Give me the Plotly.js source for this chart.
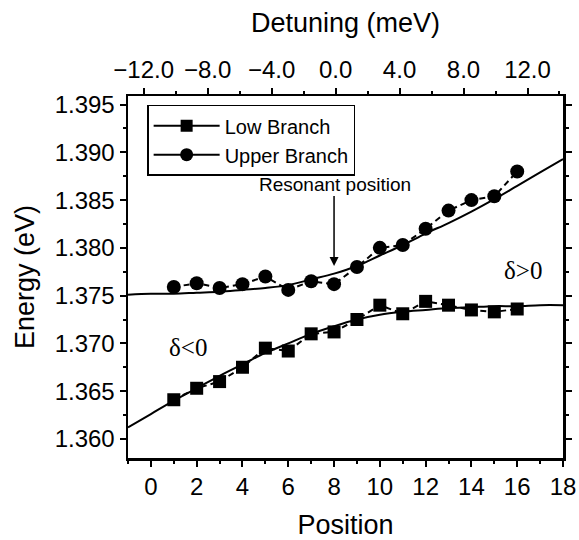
<!DOCTYPE html>
<html>
<head>
<meta charset="utf-8">
<script src="https://cdn.plot.ly/plotly-3.0.1.min.js"></script>
<style>html,body{margin:0;padding:0;background:#fff;}#chart{width:579px;height:540px;}</style>
</head>
<body>
<div id="chart"></div>
<script>
// Measured data points
const positions = [1, 2, 3, 4, 5, 6, 7, 8, 9, 10, 11, 12, 13, 14, 15, 16];
const lowBranch = [1.3641, 1.3653, 1.3660, 1.3675, 1.3695, 1.3692, 1.3710, 1.3712, 1.3725, 1.3740, 1.3731, 1.3744, 1.3740, 1.3735, 1.3733, 1.3736];
const upperBranch = [1.3759, 1.3763, 1.3758, 1.3762, 1.3770, 1.3756, 1.3765, 1.3762, 1.3780, 1.3800, 1.3803, 1.3820, 1.3839, 1.3850, 1.3854, 1.3880];

// Fitted curves
const fitPositions = [-1, 0, 1, 2, 3, 4, 5, 6, 7, 8, 9, 10, 11, 12, 13, 14, 15, 16, 17, 18];
const upperFit = [1.3751, 1.3752, 1.3752, 1.3753, 1.3754, 1.3756, 1.3758, 1.3761, 1.3767, 1.3773, 1.3781, 1.3792, 1.3803, 1.3815, 1.3826, 1.3838, 1.3851, 1.3865, 1.3879, 1.3893];
const lowerFit = [1.3612, 1.3626, 1.3640, 1.3653, 1.3666, 1.3678, 1.3690, 1.3700, 1.3710, 1.3718, 1.3725, 1.3730, 1.3733, 1.3735, 1.3737, 1.3738, 1.3739, 1.3739, 1.3740, 1.3740];

// Axis settings
const xRange = [-1, 18];
const yRange = [1.358, 1.3959];
const detuningRange = [-12.98, 14.22];

const legendNames = ['Low Branch', 'Upper Branch'];

const FONT = 'Liberation Sans, Arial, Helvetica, sans-serif';
const SERIF = 'Liberation Serif, Times New Roman, serif';

const traces = [
  {x: fitPositions, y: upperFit, mode: 'lines', line: {color: '#000', width: 2, shape: 'spline'}, showlegend: false, hoverinfo: 'skip'},
  {x: fitPositions, y: lowerFit, mode: 'lines', line: {color: '#000', width: 2, shape: 'spline'}, showlegend: false, hoverinfo: 'skip'},
  {x: positions, y: lowBranch, mode: 'lines+markers', line: {color: '#000', width: 2, dash: '6px,4px'}, marker: {symbol: 'square', size: 13, color: '#000'}, showlegend: false},
  {x: positions, y: upperBranch, mode: 'lines+markers', line: {color: '#000', width: 2, dash: '6px,4px'}, marker: {symbol: 'circle', size: 14, color: '#000'}, showlegend: false},
  // legend entries (solid line + marker)
  {x: [null], y: [null], name: legendNames[0], mode: 'lines+markers', line: {color: '#000', width: 2}, marker: {symbol: 'square', size: 12, color: '#000'}},
  {x: [null], y: [null], name: legendNames[1], mode: 'lines+markers', line: {color: '#000', width: 2}, marker: {symbol: 'circle', size: 13, color: '#000'}},
  {x: [null], y: [null], xaxis: 'x2', yaxis: 'y', showlegend: false, hoverinfo: 'skip'}
];

const layout = {
  width: 579, height: 540,
  margin: {l: 128, r: 16, t: 96, b: 82},
  paper_bgcolor: '#fff', plot_bgcolor: '#fff',
  font: {family: FONT, color: '#000', size: 24},
  showlegend: true,
  legend: {
    x: 0.044, y: 0.976, xanchor: 'left', yanchor: 'top',
    bgcolor: '#fff', bordercolor: '#000', borderwidth: 1.5,
    font: {family: FONT, size: 20, color: '#000'},
    itemwidth: 66, tracegroupgap: 0
  },
  xaxis: {
    range: xRange, showgrid: false, zeroline: false,
    showline: true, linecolor: '#000', linewidth: 2.5, mirror: true,
    ticks: 'outside', ticklen: 6, tickwidth: 2, tickcolor: '#000',
    tick0: 0, dtick: 2,
    minor: {ticks: 'outside', ticklen: 3, tickwidth: 2, tickcolor: '#000', dtick: 1, tick0: 0},
    tickfont: {family: FONT, size: 24, color: '#000'},
    title: {text: 'Position', font: {family: FONT, size: 27, color: '#000'}, standoff: 20}
  },
  xaxis2: {
    overlaying: 'x', side: 'top', anchor: 'y',
    range: detuningRange, showgrid: false, zeroline: false,
    showline: true, linecolor: '#000', linewidth: 2.5,
    ticks: 'outside', ticklen: 6, tickwidth: 2, tickcolor: '#000',
    tick0: 0, dtick: 4, tickformat: '.1f',
    minor: {ticks: 'outside', ticklen: 3, tickwidth: 2, tickcolor: '#000', dtick: 2, tick0: 0},
    tickfont: {family: FONT, size: 24, color: '#000'},
    title: {text: 'Detuning (meV)', font: {family: FONT, size: 27, color: '#000'}, standoff: 16}
  },
  yaxis: {
    range: yRange, showgrid: false, zeroline: false,
    showline: true, linecolor: '#000', linewidth: 2.5, mirror: 'ticks',
    ticks: 'outside', ticklen: 6, tickwidth: 2, tickcolor: '#000',
    tick0: 1.36, dtick: 0.005, tickformat: '.3f',
    minor: {ticks: 'outside', ticklen: 3, tickwidth: 2, tickcolor: '#000', dtick: 0.0025, tick0: 1.36},
    tickfont: {family: FONT, size: 24, color: '#000'},
    title: {text: 'Energy (eV)', font: {family: FONT, size: 27, color: '#000'}, standoff: 12}
  },
  annotations: [
    {x: 8.05, y: 1.3866, xref: 'x', yref: 'y', text: 'Resonant position', showarrow: false,
     font: {family: FONT, size: 19, color: '#000'}},
    {x: 8.0, y: 1.3781, ax: 8.0, ay: 1.3856, xref: 'x', yref: 'y', axref: 'x', ayref: 'y',
     text: '', showarrow: true, arrowhead: 2, arrowsize: 1.2, arrowwidth: 1.5, arrowcolor: '#000'},
    {x: 16.24, y: 1.37765, xref: 'x', yref: 'y', text: 'δ>0', showarrow: false,
     font: {family: SERIF, size: 25, color: '#000'}},
    {x: 1.6, y: 1.3696, xref: 'x', yref: 'y', text: 'δ<0', showarrow: false,
     font: {family: SERIF, size: 25, color: '#000'}}
  ]
};

Plotly.newPlot('chart', traces, layout, {displayModeBar: false, staticPlot: true});
</script>
</body>
</html>
